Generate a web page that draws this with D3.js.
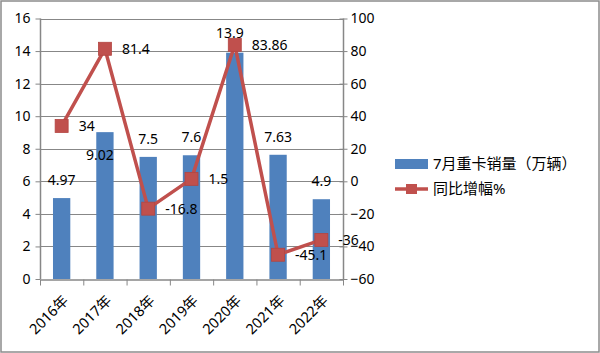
<!DOCTYPE html>
<html>
<head>
<meta charset="utf-8">
<script src="https://cdn.jsdelivr.net/npm/d3@7"></script>
<style>
  body { margin: 0; background: #fff; }
  svg text { font-family: "Noto Sans", "Noto Sans CJK SC", sans-serif; fill: #000; }
</style>
</head>
<body>
<div id="chart"></div>
<script>
// data
const years = ["2016年", "2017年", "2018年", "2019年", "2020年", "2021年", "2022年"];
const sales = [4.97, 9.02, 7.5, 7.6, 13.9, 7.63, 4.9];          // 7月重卡销量（万辆）
const growth = [34, 81.4, -16.8, 1.5, 83.86, -45.1, -36];        // 同比增幅%
const salesLabels = ["4.97", "9.02", "7.5", "7.6", "13.9", "7.63", "4.9"];
const growthLabels = ["34", "81.4", "-16.8", "1.5", "83.86", "-45.1", "-36"];
const leftTicks = [0, 2, 4, 6, 8, 10, 12, 14, 16];
const rightTicks = [-60, -40, -20, 0, 20, 40, 60, 80, 100];
const legendNames = ["7月重卡销量（万辆）", "同比增幅%"];

const W = 600, H = 353;
const plot = {left: 40, right: 343, top: 18.5, bottom: 279};
const barColor = "#4F81BD", lineColor = "#C0504D", gridColor = "#878787";

const svg = d3.select("#chart").append("svg")
    .attr("width", W).attr("height", H);

// outer frame
svg.append("rect").attr("x", 1).attr("y", 1).attr("width", W - 2).attr("height", H - 2)
    .attr("fill", "#fff").attr("stroke", "#8c8c8c").attr("stroke-width", 1.5);

const x = d3.scaleBand().domain(years).range([plot.left, plot.right]);
const yL = d3.scaleLinear().domain([0, 16]).range([plot.bottom, plot.top]);
const yR = d3.scaleLinear().domain([-60, 100]).range([plot.bottom, plot.top]);

// gridlines
svg.append("g").selectAll("line").data(leftTicks.filter(d => d > 0)).join("line")
    .attr("x1", plot.left).attr("x2", plot.right)
    .attr("y1", d => Math.round(yL(d)) + 0.5).attr("y2", d => Math.round(yL(d)) + 0.5)
    .attr("stroke", gridColor).attr("stroke-width", 1);

// left axis
const leftAxis = svg.append("g")
    .attr("transform", `translate(${plot.left + 0.5},0)`)
    .call(d3.axisLeft(yL).tickValues(leftTicks).tickSize(5).tickPadding(5));
leftAxis.selectAll("text").style("font-size", "14px");

// right axis (ticks cross the line)
const rightAxis = svg.append("g")
    .attr("transform", `translate(${plot.right + 0.5},0)`)
    .call(d3.axisRight(yR).tickValues(rightTicks).tickSize(4).tickPadding(3));
rightAxis.selectAll(".tick line").attr("x1", -4);
rightAxis.selectAll("text").style("font-size", "14px");

// bottom axis
const bottomAxis = svg.append("g")
    .attr("transform", `translate(0,${Math.round(plot.bottom) + 0.5})`)
    .call(d3.axisBottom(x).tickSize(0).tickFormat(""));
bottomAxis.selectAll(".tick").remove();
bottomAxis.append("g").selectAll("line").data(years.map((d, i) => i).concat([years.length])).join("line")
    .attr("x1", i => plot.left + i * x.step() + 0.5).attr("x2", i => plot.left + i * x.step() + 0.5)
    .attr("y1", 0).attr("y2", 6).attr("stroke", gridColor);

[leftAxis, rightAxis, bottomAxis].forEach(a => {
    a.selectAll(".domain").attr("stroke", gridColor).attr("stroke-width", 1.5);
    a.selectAll("line").attr("stroke", gridColor);
});
rightAxis.selectAll(".domain").attr("d", `M0,${plot.top}V${plot.bottom}`);
leftAxis.selectAll(".domain").attr("d", `M0,${plot.top}V${plot.bottom}`);

// year labels, rotated
svg.append("g").selectAll("text").data(years).join("text")
    .attr("transform", d => `translate(${x(d) + x.bandwidth() / 2 + 4},${plot.bottom + 19}) rotate(-45)`)
    .attr("text-anchor", "end").attr("dy", "0.35em")
    .style("font-size", "14.5px")
    .text(d => d);

// bars
const barW = x.bandwidth() * 0.4;
svg.append("g").selectAll("rect").data(sales).join("rect")
    .attr("x", (d, i) => x(years[i]) + (x.bandwidth() - barW) / 2)
    .attr("width", barW)
    .attr("y", d => yL(d))
    .attr("height", d => yL(0) - yL(d))
    .attr("fill", barColor);

// bar labels (Excel nudged a couple of them)
const barLabelShift = {1: [-5, 41], 4: [-5, -2]};
svg.append("g").selectAll("text").data(sales).join("text")
    .attr("x", (d, i) => x(years[i]) + x.bandwidth() / 2 + (barLabelShift[i] ? barLabelShift[i][0] : 0))
    .attr("y", (d, i) => yL(d) - 18 + (barLabelShift[i] ? barLabelShift[i][1] : 0))
    .attr("text-anchor", "middle").attr("dy", "0.35em")
    .style("font-size", "14px")
    .text((d, i) => salesLabels[i]);

// growth line
const line = d3.line()
    .x((d, i) => x(years[i]) + x.bandwidth() / 2)
    .y(d => yR(d));
svg.append("path").datum(growth)
    .attr("d", line)
    .attr("fill", "none").attr("stroke", lineColor).attr("stroke-width", 3.5)
    .attr("stroke-linejoin", "round");

const mk = 13;
svg.append("g").selectAll("rect").data(growth).join("rect")
    .attr("x", (d, i) => x(years[i]) + x.bandwidth() / 2 - mk / 2)
    .attr("y", d => yR(d) - mk / 2)
    .attr("width", mk).attr("height", mk)
    .attr("fill", lineColor).attr("stroke", "#b34541").attr("stroke-width", 0.8);

svg.append("g").selectAll("text").data(growth).join("text")
    .attr("x", (d, i) => x(years[i]) + x.bandwidth() / 2 + 17)
    .attr("y", d => yR(d))
    .attr("dy", "0.35em")
    .style("font-size", "14px")
    .text((d, i) => growthLabels[i]);

// legend
const legend = svg.append("g").attr("transform", "translate(395,164)");
legend.append("rect").attr("x", 0).attr("y", -5).attr("width", 33).attr("height", 10).attr("fill", barColor);
legend.append("text").attr("x", 38).attr("dy", "0.35em").style("font-size", "15px").text(legendNames[0]);
legend.append("line").attr("x1", 0).attr("x2", 33).attr("y1", 25).attr("y2", 25)
    .attr("stroke", lineColor).attr("stroke-width", 3.5);
legend.append("rect").attr("x", 11).attr("y", 20).attr("width", 11).attr("height", 10).attr("fill", lineColor);
legend.append("text").attr("x", 38).attr("y", 25).attr("dy", "0.35em").style("font-size", "15px").text(legendNames[1]);
</script>
</body>
</html>
